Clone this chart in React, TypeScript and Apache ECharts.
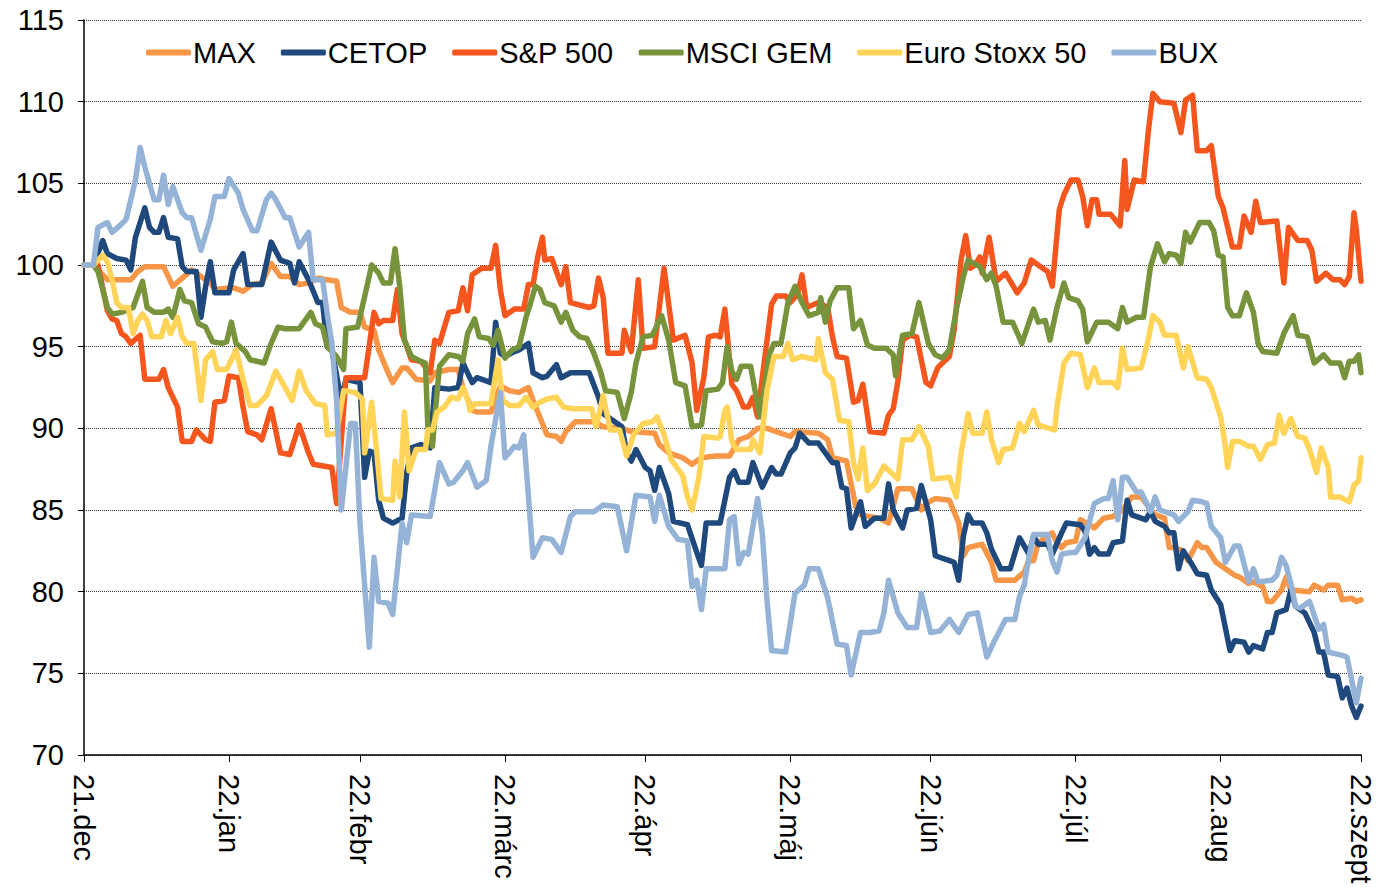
import React, { useEffect, useRef } from "react";
import * as echarts from "echarts";

// x = calendar days from the "21.dec" tick, y = index value
const tickDays = [0, 31, 59, 90, 120, 151, 181, 212, 243, 273];
const tickLabels = ["21.dec", "22.jan", "22.febr", "22.márc", "22.ápr", "22.máj", "22.jún", "22.júl", "22.aug", "22.szept"];
const seriesNames = ["MAX", "CETOP", "S&P 500", "MSCI GEM", "Euro Stoxx 50", "BUX"];
const seriesColors = ["#F79646", "#1F497D", "#F4561D", "#77933C", "#FFD459", "#95B3D7"];

const maxData = [[0,100],[2,100],[3,99.7],[5,99.1],[10,99.1],[11.5,99.6],[13,99.9],[17,99.9],[18,99.3],[19,98.7],[21,99.2],[23,99.7],[25,99.3],[27,98.9],[28,98.5],[31,98.6],[32,98.6],[34,98.4],[36,98.8],[38,98.9],[40,100.1],[42,99.3],[44,99.3],[46,98.8],[48,98.9],[50,99.2],[52,99.1],[54,99],[55,97.4],[57,97.1],[59,97.1],[60,96.2],[62,96],[63,94.8],[65,93.4],[66,92.8],[68,93.7],[69,93.7],[71,93],[74,92.9],[75,93.4],[78,93.6],[80,93.6],[81,92.5],[83,91.1],[84,91],[87,91],[89,92.6],[91,92.3],[93,92.2],[95,92.5],[96,91.7],[98,90.3],[99,89.6],[101,89.5],[102,89.2],[103,89.8],[105,90.4],[109,90.4],[111,90.1],[115,90],[117,89.8],[122,89.7],[123,89],[125,88.5],[128,88.2],[130,87.8],[132,88.2],[135,88.3],[138,88.3],[140,89.3],[142,89.5],[144,90],[146,90],[148,89.8],[151,89.5],[152,89.8],[157,89.7],[159,89.3],[160,88.2],[163,88],[164,86.6],[165,85.2],[166,84.7],[170,84.5],[172,84.2],[174,86.3],[177,86.3],[179,85],[180,85.4],[182,85.7],[185,85.6],[187,84.2],[188,82.2],[189,82.7],[192,82.9],[194,81.8],[195,80.7],[199,80.7],[201,81.2],[202,81.9],[203,81.9],[204,83],[207,83.6],[208,83],[209,82.7],[210,83],[212,83.1],[213,84.4],[215,84.1],[216,83.9],[218,84.5],[220,84.6],[222,85],[224,85.8],[226,85.8],[227,85.4],[229,84.7],[231,84.5],[232,82.7],[233,82.7],[235,82.5],[236,81.9],[238,83],[239,82.7],[240,82.7],[242,81.8],[244,81.4],[246,81],[247,80.9],[249,80.5],[250,80.6],[252,80.3],[253,79.4],[254,79.4],[256,80.1],[257,80.9],[258,80.1],[262,80],[263,80.4],[265,80.1],[266,80.4],[268,80.4],[269,79.5],[271,79.6],[272,79.4],[273,79.5]];

const cetopData = [[0,100],[2,100],[4,101.5],[5,100.7],[7,100.4],[9,100.3],[10,99.7],[11,101.7],[13,103.5],[14,102.3],[15,102],[16,102],[17,102.9],[18,101.7],[20,101.6],[21,99.9],[22,99.6],[24,99.6],[25,96.8],[26,98.7],[27,100.2],[28,98.3],[31,98.3],[32,99.7],[34,100.7],[35,98.8],[38,98.8],[40,101.4],[42,100.3],[44,100.1],[45,98.9],[46,100.2],[48,99.1],[50,97.7],[51,97.7],[52,95],[53,94.8],[55,91.7],[56,93],[59,92.8],[60,87],[61,88.6],[62,88.5],[63,85.6],[64,84.5],[66,84.2],[68,84.5],[69,87.3],[70,88.8],[72,89],[74,88.8],[75,92.5],[78,92.4],[80,92.5],[81,94],[83,92.8],[84,93.1],[87,92.8],[88,96.5],[89,94.6],[90,94.4],[92,94.7],[93,94.8],[95,95.2],[96,93.4],[98,93.1],[99,93.2],[101,93.9],[102,93.1],[104,93.4],[108,93.4],[110,91.9],[111,90.9],[113,90.5],[115,90.1],[116,88.5],[117,88],[118,88.7],[120,87.6],[121,87.4],[122,86.2],[123,87.6],[125,86],[126,84.3],[129,84.1],[131,82.4],[132,81.6],[133,84.2],[136,84.2],[138,87],[139,87.4],[140,86.7],[142,86.7],[143,87.9],[145,86.4],[147,87.6],[148,87.2],[149,87.2],[151,88.5],[152,88.8],[153,89.7],[155,89.1],[157,89.1],[158,88.7],[160,87.9],[161,87.9],[162,86.4],[163,86.3],[164,83.9],[166,85.5],[167,84],[169,84.5],[171,84.5],[172,86.6],[173,85],[175,83.9],[176,85],[178,85.1],[179,86.5],[181,84.4],[182,82.2],[185,81.9],[186,81.8],[187,80.7],[188,83.4],[189,84.7],[190,84.2],[192,84.2],[193,83.6],[194,82.6],[196,81.4],[198,81.4],[200,83.3],[201,82.8],[202,82.3],[203,83.4],[204,82.9],[206,82.9],[207,82.3],[209,83.6],[210,84.2],[213,84.1],[214,83.7],[215,82.3],[216,82.7],[217,82.3],[219,82.3],[220,83],[222,83.1],[223,85.6],[224,84.7],[226,84.5],[227,84.4],[228,84.9],[229,84.3],[231,84],[232,83.6],[233,83.6],[234,81.4],[235,82.5],[237,81.6],[238,81.1],[240,81],[241,80.1],[243,79.2],[245,76.4],[246,77],[248,76.9],[249,76.3],[250,76.7],[252,76.5],[253,77.5],[254,77.5],[255,78.7],[257,78.9],[258,80.1],[259,79.1],[261,78.7],[263,77.5],[264,76.3],[265,76.3],[266,74.9],[268,74.8],[269,73.5],[270,74.1],[271,73],[272,72.3],[273,73]];

const spData = [[0,100],[2,100],[3,100],[5,97.2],[6,96.7],[7,96.6],[8,95.8],[9,95.6],[10,95.2],[12,95.7],[13,93],[16,93],[17,93.6],[18,92.5],[20,91.3],[21,89.2],[23,89.2],[24,89.9],[26,89.3],[27,89.2],[28,91.6],[30,91.7],[31,93.2],[33,93.1],[34,91.3],[35,89.8],[37,89.6],[38,89.3],[40,91.2],[42,88.5],[44,88.4],[46,90.2],[48,88.5],[49,87.8],[53,87.6],[54,85.4],[56,93.1],[60,93.1],[62,97.1],[63,96.4],[64,96.6],[66,96.6],[67,98.5],[68,95.8],[69,95],[70,94.2],[72,94.1],[74,93.4],[75,95.4],[76,95.2],[78,97.1],[80,97.2],[81,98.6],[82,97.2],[83,99.4],[85,99.8],[87,99.8],[88,101.2],[89,98.5],[90,96.9],[92,97.3],[94,97.3],[95,98.8],[96,98.8],[97,100.5],[98,101.7],[98.5,100.3],[100,100.4],[102,98.8],[103,99.9],[104,97.7],[108,97.4],[109,97.5],[110,99.2],[111,98],[112,94.6],[115,94.6],[115.5,96],[117,94.7],[118.5,99.1],[119.5,94.9],[122,95],[124,99.8],[126,95.4],[128.5,95.7],[130,94],[131,91.1],[132.5,93.1],[133.5,95.6],[135,95.7],[136,95.6],[137,97.3],[138.5,92.7],[139.5,92.3],[141,91.3],[142,91.3],[143,91.9],[144,90.7],[145,93.1],[147,97.6],[148,98.1],[150,98.1],[151,97.7],[152.5,98.2],[153.5,99.4],[154.5,97.4],[157,97.7],[159,97.4],[160,95.6],[161,94.4],[163,94.3],[164.5,91.6],[165.5,91.7],[166.5,92.7],[168,89.8],[171,89.7],[172,90.8],[173,91.2],[174,92.9],[175,95.4],[176.5,95.7],[178,95.6],[179,94.2],[180,92.8],[181,92.6],[182.5,93.7],[183.5,94],[185,94.4],[186,96],[187.5,100.3],[188.5,101.8],[189.5,99.8],[190.5,100],[191.5,100.5],[192,99.5],[193.5,101.7],[195,99],[197,99.5],[199.5,98.3],[201,98.9],[202.5,100.3],[204.5,99.9],[206,99.6],[207,98.7],[208.5,103.4],[209.5,104.3],[211,105.2],[212.5,105.2],[213.5,104.2],[214.5,102.4],[215.5,104],[216.5,104],[217,103.1],[219.5,103.1],[221.5,102.4],[222.5,106.4],[223,103.4],[224.5,105.2],[226.5,105.1],[227.5,108.1],[228.5,110.5],[230,110],[233,109.9],[234.5,108.1],[235.5,110.1],[237,110.4],[238,107],[240,107],[241,107.3],[242.5,104.2],[243.5,103.5],[245.5,101.1],[247,101.1],[248,103],[249.5,102],[250.5,103.9],[251.5,102.6],[255,102.7],[256.5,98.9],[257.5,102.3],[259.5,101.5],[261.5,101.5],[262.5,100.9],[263.5,99],[265.5,99.5],[267,99.1],[268.5,99.1],[269.5,98.8],[270.5,99.3],[271.5,103.2],[272,102.2],[273,99]];

const gemData = [[0,100],[2,100],[3,99.6],[5,97.4],[6,97],[8,97.1],[10.5,97.4],[12.5,99],[13.5,97.4],[15,97.1],[17,97.1],[18,97.3],[19,96.8],[20.5,98.5],[21.5,97.8],[23,97.7],[24.5,96.4],[26,96.2],[27.5,95.3],[29.5,95.2],[30.5,95.3],[31.5,96.5],[32.5,95.2],[34.5,94.7],[35.5,94.2],[38.5,94],[40,95.2],[41.5,96.2],[43,96.1],[46,96.1],[48.5,97.1],[49.5,96.4],[51,96.2],[52,95],[54,94.4],[55.5,93.6],[56,96.1],[58.5,96.2],[60.5,98.7],[61.5,100],[63,99.5],[64,98.9],[65.5,98.9],[66.5,101],[67.5,98.7],[68.5,95.4],[70,94.4],[72,94.1],[73,94],[73.5,90.1],[74.5,88.9],[75,90.7],[76,93.8],[78,94.5],[80,94.4],[81,94.1],[82,95.8],[83.5,96.7],[84.5,95.6],[86.5,95.5],[87.5,95.1],[88.5,96],[90,94.3],[91.5,94.8],[93,95],[94.5,96.8],[95.5,97.7],[96.5,98.7],[97.5,98.5],[98.5,97.7],[100.5,97.5],[102,96.5],[103,97.1],[104.5,96],[106,95.6],[107.5,95.5],[109,94.6],[110.5,93.4],[111.5,92.3],[114,92.2],[115.5,90.6],[117,92.2],[118,94],[119.5,95.6],[121.5,95.7],[123.5,96.9],[125,95.4],[126.5,92.8],[128.5,92.6],[130,90.1],[132,90.2],[133,92.3],[135.5,92.4],[136.5,92.8],[137.5,95],[138.5,93.5],[139.5,93],[140.5,93.8],[142.5,93.8],[144.5,90.7],[146.5,94.5],[147.5,95.2],[149,95.2],[150.5,97.7],[152,98.7],[153.5,97.7],[155,96.9],[157,97.1],[157.5,98],[158.5,96.5],[159.5,97.8],[161,98.6],[163.5,98.6],[164.5,96.1],[166,96.6],[167.5,95.1],[169,94.9],[171.5,94.9],[173,94.5],[173.5,93.2],[175,95.7],[177,95.8],[178.5,97.7],[180.5,95.2],[182,94.5],[183.5,94.3],[185,94.8],[186.5,97.3],[188,99.3],[189,100.3],[191.5,99.9],[193,99.1],[194,99.5],[195,98.7],[196.5,96.5],[198.5,96.5],[200.5,95.2],[203,97.3],[204,96.5],[205.5,96.6],[206.5,95.4],[208,97.4],[209.5,98.9],[210.5,98],[212.5,97.8],[213.5,97.3],[214.5,95.3],[216.5,96.5],[219,96.5],[221,96.1],[222,97.4],[223,96.5],[225,96.8],[226.5,96.8],[228,99.9],[229.5,101.3],[231,100.2],[232,100.7],[233.5,100.6],[234.5,100.1],[235.5,102],[236.5,101.4],[238.5,102.6],[240.5,102.6],[241.5,102.1],[242.5,100.6],[243.5,100.5],[244.5,97.4],[245.5,96.9],[247,96.9],[248.5,98.3],[250,97.1],[251,95.2],[252,94.7],[255,94.6],[256.5,95.8],[258.5,96.9],[259.5,95.7],[261.5,95.6],[263,94],[265,94.5],[266.5,94],[268.5,94],[269.5,93.1],[270.5,94.1],[271.5,94.1],[272.5,94.5],[273,93.4]];

const euroData = [[0,100],[2,100],[4,100.6],[5,100.2],[6,99.1],[7,97.7],[8,97.4],[9.5,97.4],[10.5,95.8],[11.5,96.6],[12.5,97],[13.5,96.6],[14.5,95.6],[16.5,95.6],[17.5,96.6],[18.5,95.8],[20,96.8],[21,95.6],[22,95.2],[23.5,95.2],[25,91.7],[26,94.2],[27.5,94.7],[28.5,93.6],[30.5,93.6],[32.5,94.8],[34,93],[35.5,91.4],[37,91.4],[39,92],[41,93.5],[43,92.5],[44.5,91.7],[46,93.5],[47.5,92.3],[49.5,91.5],[51.5,91.4],[52,89.6],[54,89.7],[55.5,92.3],[58,92.2],[59.5,91.8],[60,88.5],[61.5,91.6],[62.5,88.8],[63.5,85.7],[66,85.6],[66.5,88],[67.5,85.8],[68.5,91],[69.5,87.4],[71,88.7],[73,88.7],[73.5,89.9],[74.5,89.9],[75.5,91],[77,91.3],[78.5,91.9],[80,91.8],[81,92.5],[82,91.8],[82.5,91.1],[83.5,91.5],[87,91.5],[88.5,94.2],[89.5,91.7],[91,91.4],[93,91.4],[94.5,91.9],[96,91.3],[97.5,91.6],[99,91.8],[101,91.9],[102.5,91.3],[104.5,91.2],[108.5,91.2],[109.5,90.1],[111,92],[112.5,89.9],[114.5,89.9],[116,88.3],[117.5,89.6],[119.5,90.3],[121.5,90.4],[122.5,90.7],[124,89.6],[125.5,88.1],[128,87.1],[129,85.8],[130,85],[131.5,87.1],[132.5,89.5],[135.5,89.4],[136,89.5],[137,91.1],[137.5,91.3],[138.5,89.2],[139.5,88.7],[142.5,88.7],[143,89.3],[144.5,88.5],[146,92.3],[147.5,94.4],[149.5,94.4],[150.5,95.2],[151.5,94.2],[153.5,94.4],[156.5,94.2],[157,95.5],[158.5,93.4],[160,93],[161.5,90.5],[163.5,90.4],[164.5,87.9],[165.5,86.9],[166.5,88.8],[167.5,86.2],[169,86.6],[171,87.7],[172.5,87.3],[174,86.9],[175,89.3],[177,89.3],[178.5,90.1],[180.5,88.9],[181.5,86.9],[185,87],[186.5,85.8],[187.5,88.5],[189,90.9],[190,89.7],[192,89.7],[193,91],[194,89.3],[195.5,87.9],[196.5,88.7],[198.5,88.8],[200,90.3],[201,89.8],[203,91.1],[204,90.2],[207.5,89.9],[208,91.3],[209.5,94],[211,94.6],[213,94.5],[214.5,92.5],[216,93.7],[217,92.8],[220,92.8],[221,92.5],[222,94.9],[223,93.6],[226,93.7],[227.5,95.4],[228.5,96.9],[230,96.5],[231,95.7],[233.5,95.7],[235,93.7],[236,95],[238,93.1],[240,93],[241,92.5],[243,90.7],[244,88.9],[244.5,87.6],[245.5,89.2],[247,89.2],[249,88.9],[250,88.9],[251.5,88.1],[253,89],[254.5,89.1],[255.5,90.8],[256.5,89.7],[258,90.6],[259.5,89.5],[261,89.4],[262,88.7],[263.5,87.3],[264.5,88.8],[266,87.6],[266.5,85.8],[268.5,85.8],[270.5,85.5],[271.5,86.5],[272.5,86.8],[273,88.2]];

const buxData = [[0,100],[2,100],[3,102.3],[5,102.6],[6,102],[8,102.5],[9,102.8],[11,105.2],[12,107.2],[13,106],[15,104],[16,104],[17,105.5],[18,103.7],[19,104.8],[21,103.2],[22,102.9],[23,102.9],[25,100.9],[27,102.8],[28,104.2],[30,104.2],[31,105.3],[33,104.4],[34,103.4],[36,102.1],[37,102.1],[39,104],[40,104.4],[41,104],[43,102.9],[44,102.9],[46,101.1],[48,102],[49,99.1],[51,99.1],[52,97],[53,95.2],[54,91.7],[55,85],[57,90.3],[58,90.3],[59,84.2],[61,76.6],[62,82.1],[63,79.4],[65,79.3],[66,78.6],[68,84.2],[69,83],[70,84.7],[74,84.6],[76,87.9],[78,86.6],[79,86.7],[81,87.4],[82,87.9],[84,86.4],[86,86.8],[87,88.9],[89,92.2],[90,88.2],[92,88.9],[93,88.8],[94,89.6],[96,82.1],[98,83.3],[100,83.2],[102,82.4],[104,84.6],[105,84.9],[109,84.9],[111,85.3],[114,85.2],[116,82.5],[118,85.9],[121,85.8],[122,84.3],[123,85.9],[125,84],[127,83.2],[129,83.1],[130,80.3],[131,80.7],[132,78.9],[133,81.4],[137,81.4],[138,84.4],[139,84.6],[140,81.7],[141,82.4],[142,82.3],[144,85.7],[145,83.6],[146,79.5],[147,76.4],[150,76.3],[152,79.9],[154,80.4],[155,81.4],[157,81.4],[159,79.6],[161,76.8],[163,76.7],[164,74.9],[166,77.5],[168,77.5],[170,77.6],[171,78.7],[172,80.7],[174,78.7],[176,77.8],[178,77.8],[179,79.9],[181,77.5],[183,77.6],[185,78.3],[187,77.5],[189,78.6],[191,78.7],[193,76],[195,77.2],[197,78.3],[199,78.3],[200,79.7],[201,80.4],[202,82.1],[203,83.5],[206,83.5],[207,81.9],[208,81.2],[209,82.3],[211,82.4],[212,82.4],[214,83.3],[216,85.4],[218,85.7],[219,85.7],[220,86.8],[221,84.4],[222,87],[223,87],[225,86.1],[226,86.1],[228,84.9],[229,85.8],[230,85],[232,84.8],[233,84.7],[234,84.3],[236,84.9],[237,85.6],[239,85.5],[240,85.4],[241,84],[243,83.3],[244,81.8],[246,82.8],[247,82.8],[249,80.6],[250,81.4],[251,80.6],[254,80.7],[255,81],[256,82.1],[257,81.6],[258,80.5],[259,79.1],[260,79],[262,79.4],[264,77.7],[265,78],[266,76.3],[269,76.1],[270,76],[271,74.6],[272,73.2],[273,74.7]];

const allData = [maxData, cetopData, spData, gemData, euroData, buxData];

const FONT = "'Liberation Sans', Arial, sans-serif";

export default function App() {
  const ref = useRef<HTMLDivElement>(null);
  useEffect(() => {
    if (!ref.current) return;
    const chart = echarts.init(ref.current, null, { renderer: "svg" });
    chart.setOption({
      animation: false,
      backgroundColor: "#ffffff",
      textStyle: { fontFamily: FONT },
      grid: { left: 84, right: 18, top: 20, bottom: 132 },
      legend: {
        data: seriesNames,
        left: 141,
        top: 33,
        icon: "roundRect",
        itemWidth: 45,
        itemHeight: 6,
        itemGap: 25,
        textStyle: { fontSize: 29, color: "#000", fontFamily: FONT, padding: [0, 0, 0, -3] },
      },
      xAxis: {
        type: "value",
        min: 0,
        max: 273,
        axisLine: { show: true, lineStyle: { color: "#000", width: 1.5 } },
        axisTick: { show: true, customValues: tickDays, length: 7, lineStyle: { color: "#000" } },
        splitLine: { show: false },
        axisLabel: {
          customValues: tickDays,
          rotate: -90,
          margin: 19,
          fontSize: 29,
          color: "#000",
          fontFamily: FONT,
          formatter: (v: number) => {
            const i = tickDays.indexOf(Math.round(v));
            return i >= 0 ? tickLabels[i] : "";
          },
        },
      },
      yAxis: {
        type: "value",
        min: 70,
        max: 115,
        interval: 5,
        axisLine: { show: true, lineStyle: { color: "#000", width: 1.5 } },
        axisTick: { show: true, length: 6, lineStyle: { color: "#000" } },
        splitLine: { show: true, lineStyle: { color: "#333", type: [1, 1], width: 1 } },
        axisLabel: { fontSize: 29, color: "#000", margin: 20, fontFamily: FONT },
      },
      series: seriesNames.map((name, i) => ({
        name,
        type: "line",
        data: allData[i],
        symbol: "none",
        showSymbol: false,
        color: seriesColors[i],
        lineStyle: { width: 5.5, color: seriesColors[i], cap: "round", join: "round" },
        emphasis: { disabled: true },
        z: 2 + i,
      })),
    });
    return () => chart.dispose();
  }, []);
  return (
    <div
      ref={ref}
      style={{ position: "fixed", left: 0, top: 0, width: 1379, height: 887, background: "#fff" }}
    />
  );
}
